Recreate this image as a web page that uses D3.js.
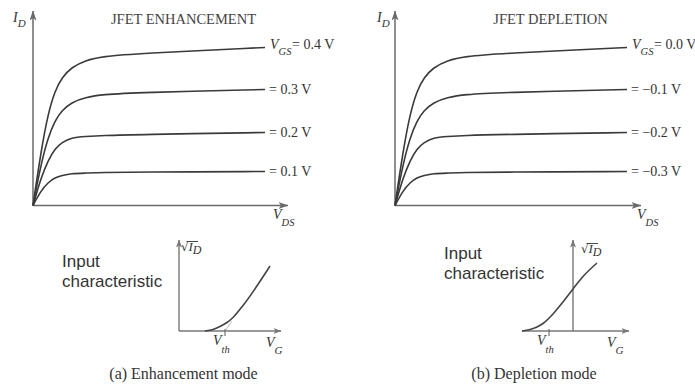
<!DOCTYPE html>
<html>
<head>
<meta charset="utf-8">
<script src="https://cdn.jsdelivr.net/npm/d3@7"></script>
<style>
  html, body { margin: 0; padding: 0; background: #fff; }
  svg { display: block; }
</style>
</head>
<body>
<svg id="fig" width="695" height="386"></svg>
<script>
// ---- Output characteristics (I_D vs V_DS), shared sample grid ----
const vdsPoints = [0, 0.35, 0.65, 0.95, 1.25, 1.65, 2.25, 3, 4.5, 10];
// Drain current for the four gate-voltage steps, highest step first
const idStep1 = [0, 2.75, 4.6, 5.75, 6.4, 6.9, 7.25, 7.45, 7.6, 7.9];
const idStep2 = [0, 2.1, 3.4, 4.25, 4.75, 5.15, 5.4, 5.55, 5.65, 5.8];
const idStep3 = [0, 1.4, 2.25, 2.85, 3.15, 3.4, 3.45, 3.5, 3.55, 3.65];
const idStep4 = [0, 0.75, 1.15, 1.4, 1.5, 1.6, 1.62, 1.65, 1.67, 1.7];
const enhancementVgs = ["0.4", "0.3", "0.2", "0.1"];
const depletionVgs = ["0.0", "\u22120.1", "\u22120.2", "\u22120.3"];

// ---- Input characteristics (sqrt(I_D) vs V_G) ----
const enhVg = [2.6, 3.4, 4.1, 4.8, 5.4, 6.4, 9.1];
const enhSqrtId = [0, 0.15, 0.45, 0.85, 1.35, 2.55, 6.5];
const enhVth = 4.6;
const depVg = [-5.1, -4.3, -3.6, -3.0, -2.0, -1.0, 0, 1.0, 2.4];
const depSqrtId = [0, 0.15, 0.4, 0.75, 1.7, 2.9, 4.2, 5.45, 6.8];
const depVth = -2.4;

const idSteps = [idStep1, idStep2, idStep3, idStep4];

const SERIF = "'Liberation Serif', 'Times New Roman', serif";
const SANS = "'Liberation Sans', Arial, sans-serif";
const AXIS = "#6a6a6a";
const CURVE = "#3a3a3a";
const INK = "#333";

const svg = d3.select("#fig");

// arrowheads
const defs = svg.append("defs");
function arrow(id, w, h, color) {
  defs.append("marker")
    .attr("id", id)
    .attr("markerUnits", "userSpaceOnUse")
    .attr("markerWidth", w).attr("markerHeight", h)
    .attr("refX", w - 0.5).attr("refY", h / 2)
    .attr("orient", "auto")
    .append("path")
    .attr("d", `M0,0 L${w},${h / 2} L0,${h} L${w * 0.25},${h / 2} Z`)
    .attr("fill", color);
}
arrow("arrowMain", 10, 7, AXIS);
arrow("arrowSmall", 8, 6, "#777");

function axisLine(g, x1, y1, x2, y2, marker, color, width) {
  g.append("line")
    .attr("x1", x1).attr("y1", y1).attr("x2", x2).attr("y2", y2)
    .attr("stroke", color).attr("stroke-width", width)
    .attr("marker-end", `url(#${marker})`);
}

// italic symbol with a lowered subscript
function symbol(g, x, y, main, sub, size, subSize, drop) {
  const t = g.append("text")
    .attr("x", x).attr("y", y)
    .attr("font-family", SERIF).attr("font-style", "italic")
    .attr("font-size", size).attr("fill", INK);
  t.append("tspan").text(main);
  t.append("tspan").attr("font-size", subSize).attr("dy", drop).text(sub);
  return t;
}

// ---- Output characteristic panel ----
function outputPanel(cfg, vgsLabels, title) {
  const g = svg.append("g");
  const x = d3.scaleLinear().domain([0, 10]).range([cfg.x0, cfg.xEnd]);
  const y = d3.scaleLinear().domain([0, 9.6]).range([cfg.y0, cfg.y0 - 192]);

  axisLine(g, x(0), y(0), x(0), cfg.yTip, "arrowMain", AXIS, 1.5);
  axisLine(g, x(0), y(0), cfg.xTip, y(0), "arrowMain", AXIS, 1.5);

  const line = d3.line()
    .x((d, i) => x(vdsPoints[i]))
    .y(d => y(d))
    .curve(d3.curveBasis);

  idSteps.forEach((ids, k) => {
    g.append("path")
      .attr("d", line(ids))
      .attr("fill", "none")
      .attr("stroke", CURVE)
      .attr("stroke-width", 1.6);

    const ly = y(ids[ids.length - 1]);
    if (k === 0) {
      symbol(g, x(10) + 5, ly + 1, "V", "GS", 14, 10.5, 6);
      g.append("text")
        .attr("x", x(10) + cfg.eqOffset).attr("y", ly + 1)
        .attr("font-family", SERIF).attr("font-size", 14).attr("fill", INK)
        .text(`= ${vgsLabels[k]} V`);
    } else {
      g.append("text")
        .attr("x", x(10) + 4).attr("y", ly + 4)
        .attr("font-family", SERIF).attr("font-size", 14).attr("fill", INK)
        .text(`= ${vgsLabels[k]} V`);
    }
  });

  symbol(g, cfg.idLabelX, 22, "I", "D", 14, 11, 5);
  symbol(g, cfg.vdsLabelX, 219, "V", "DS", 14, 10.5, 7);

  g.append("text")
    .attr("x", cfg.titleX).attr("y", 24)
    .attr("text-anchor", "middle")
    .attr("font-family", SERIF).attr("font-size", 14.5)
    .attr("fill", "#444")
    .text(title);
}

outputPanel({ x0: 33, xEnd: 265, y0: 205.5, xTip: 288, yTip: 11,
              eqOffset: 27, idLabelX: 13, vdsLabelX: 273, titleX: 183.5 },
            enhancementVgs, "JFET ENHANCEMENT");
outputPanel({ x0: 395, xEnd: 627, y0: 205.5, xTip: 641, yTip: 11,
              eqOffset: 27, idLabelX: 377, vdsLabelX: 637, titleX: 550.5 },
            depletionVgs, "JFET DEPLETION");

// ---- Input characteristic inset ----
function inputPanel(cfg) {
  const g = svg.append("g");
  const x = d3.scaleLinear().domain(cfg.domain).range(cfg.range);
  const y = d3.scaleLinear().domain([0, 9]).range([331, 241]);

  axisLine(g, cfg.xAxisStart, y(0), cfg.xTip, y(0), "arrowSmall", "#777", 1.4);
  axisLine(g, x(0), y(0), x(0), 240, "arrowSmall", "#777", 1.4);

  // faint extension of the linear region down to the threshold
  if (cfg.guide) {
    g.append("line")
      .attr("x1", x(cfg.vth)).attr("y1", y(0))
      .attr("x2", x(cfg.vth + 0.7)).attr("y2", y(1.0))
      .attr("stroke", "#bbb").attr("stroke-width", 1);
  }

  // threshold tick
  g.append("line")
    .attr("x1", x(cfg.vth)).attr("x2", x(cfg.vth))
    .attr("y1", y(0) - 2).attr("y2", y(0) + 5)
    .attr("stroke", "#666").attr("stroke-width", 1.1);

  const line = d3.line()
    .x((d, i) => x(cfg.vg[i]))
    .y(d => y(d))
    .curve(d3.curveMonotoneX);
  g.append("path")
    .attr("d", line(cfg.sq))
    .attr("fill", "none").attr("stroke", "#444").attr("stroke-width", 1.6);

  // sqrt(I_D) label
  const sx = cfg.sqrtX, sy = cfg.sqrtY;
  g.append("text").attr("x", sx).attr("y", sy)
    .attr("font-family", "'DejaVu Serif', serif").attr("font-size", 12)
    .attr("fill", INK).text("\u221A");
  g.append("line")
    .attr("x1", sx + 5.5).attr("x2", sx + 17)
    .attr("y1", sy - 9.5).attr("y2", sy - 9.5)
    .attr("stroke", INK).attr("stroke-width", 0.9);
  symbol(g, sx + 7.5, sy, "I", "D", 13, 12, 3);

  // V_th and V_G labels
  symbol(g, x(cfg.vth) - 12, 345, "V", "th", 14, 10.5, 8);
  symbol(g, cfg.vgLabelX, 347, "V", "G", 14, 11, 7);

  const lab = g.append("text").attr("font-family", SANS).attr("font-size", 17)
    .attr("fill", INK);
  lab.append("tspan").attr("x", cfg.textX).attr("y", cfg.textY).text("Input");
  lab.append("tspan").attr("x", cfg.textX).attr("y", cfg.textY + 20).text("characteristic");

  g.append("text").attr("x", cfg.captionX).attr("y", 379)
    .attr("text-anchor", "middle")
    .attr("font-family", SERIF).attr("font-size", 16)
    .attr("fill", INK).text(cfg.caption);
}

inputPanel({ domain: [0, 10], range: [179, 279], xAxisStart: 179, xTip: 281,
             vg: enhVg, sq: enhSqrtId, vth: enhVth, guide: true,
             sqrtX: 181, sqrtY: 251, vgLabelX: 266,
             textX: 62, textY: 267, captionX: 183.5,
             caption: "(a) Enhancement mode" });
inputPanel({ domain: [-5, 5], range: [523, 623], xAxisStart: 522, xTip: 629,
             vg: depVg, sq: depSqrtId, vth: depVth, guide: false,
             sqrtX: 581, sqrtY: 253, vgLabelX: 607,
             textX: 444, textY: 259, captionX: 534,
             caption: "(b) Depletion mode" });
</script>
</body>
</html>
